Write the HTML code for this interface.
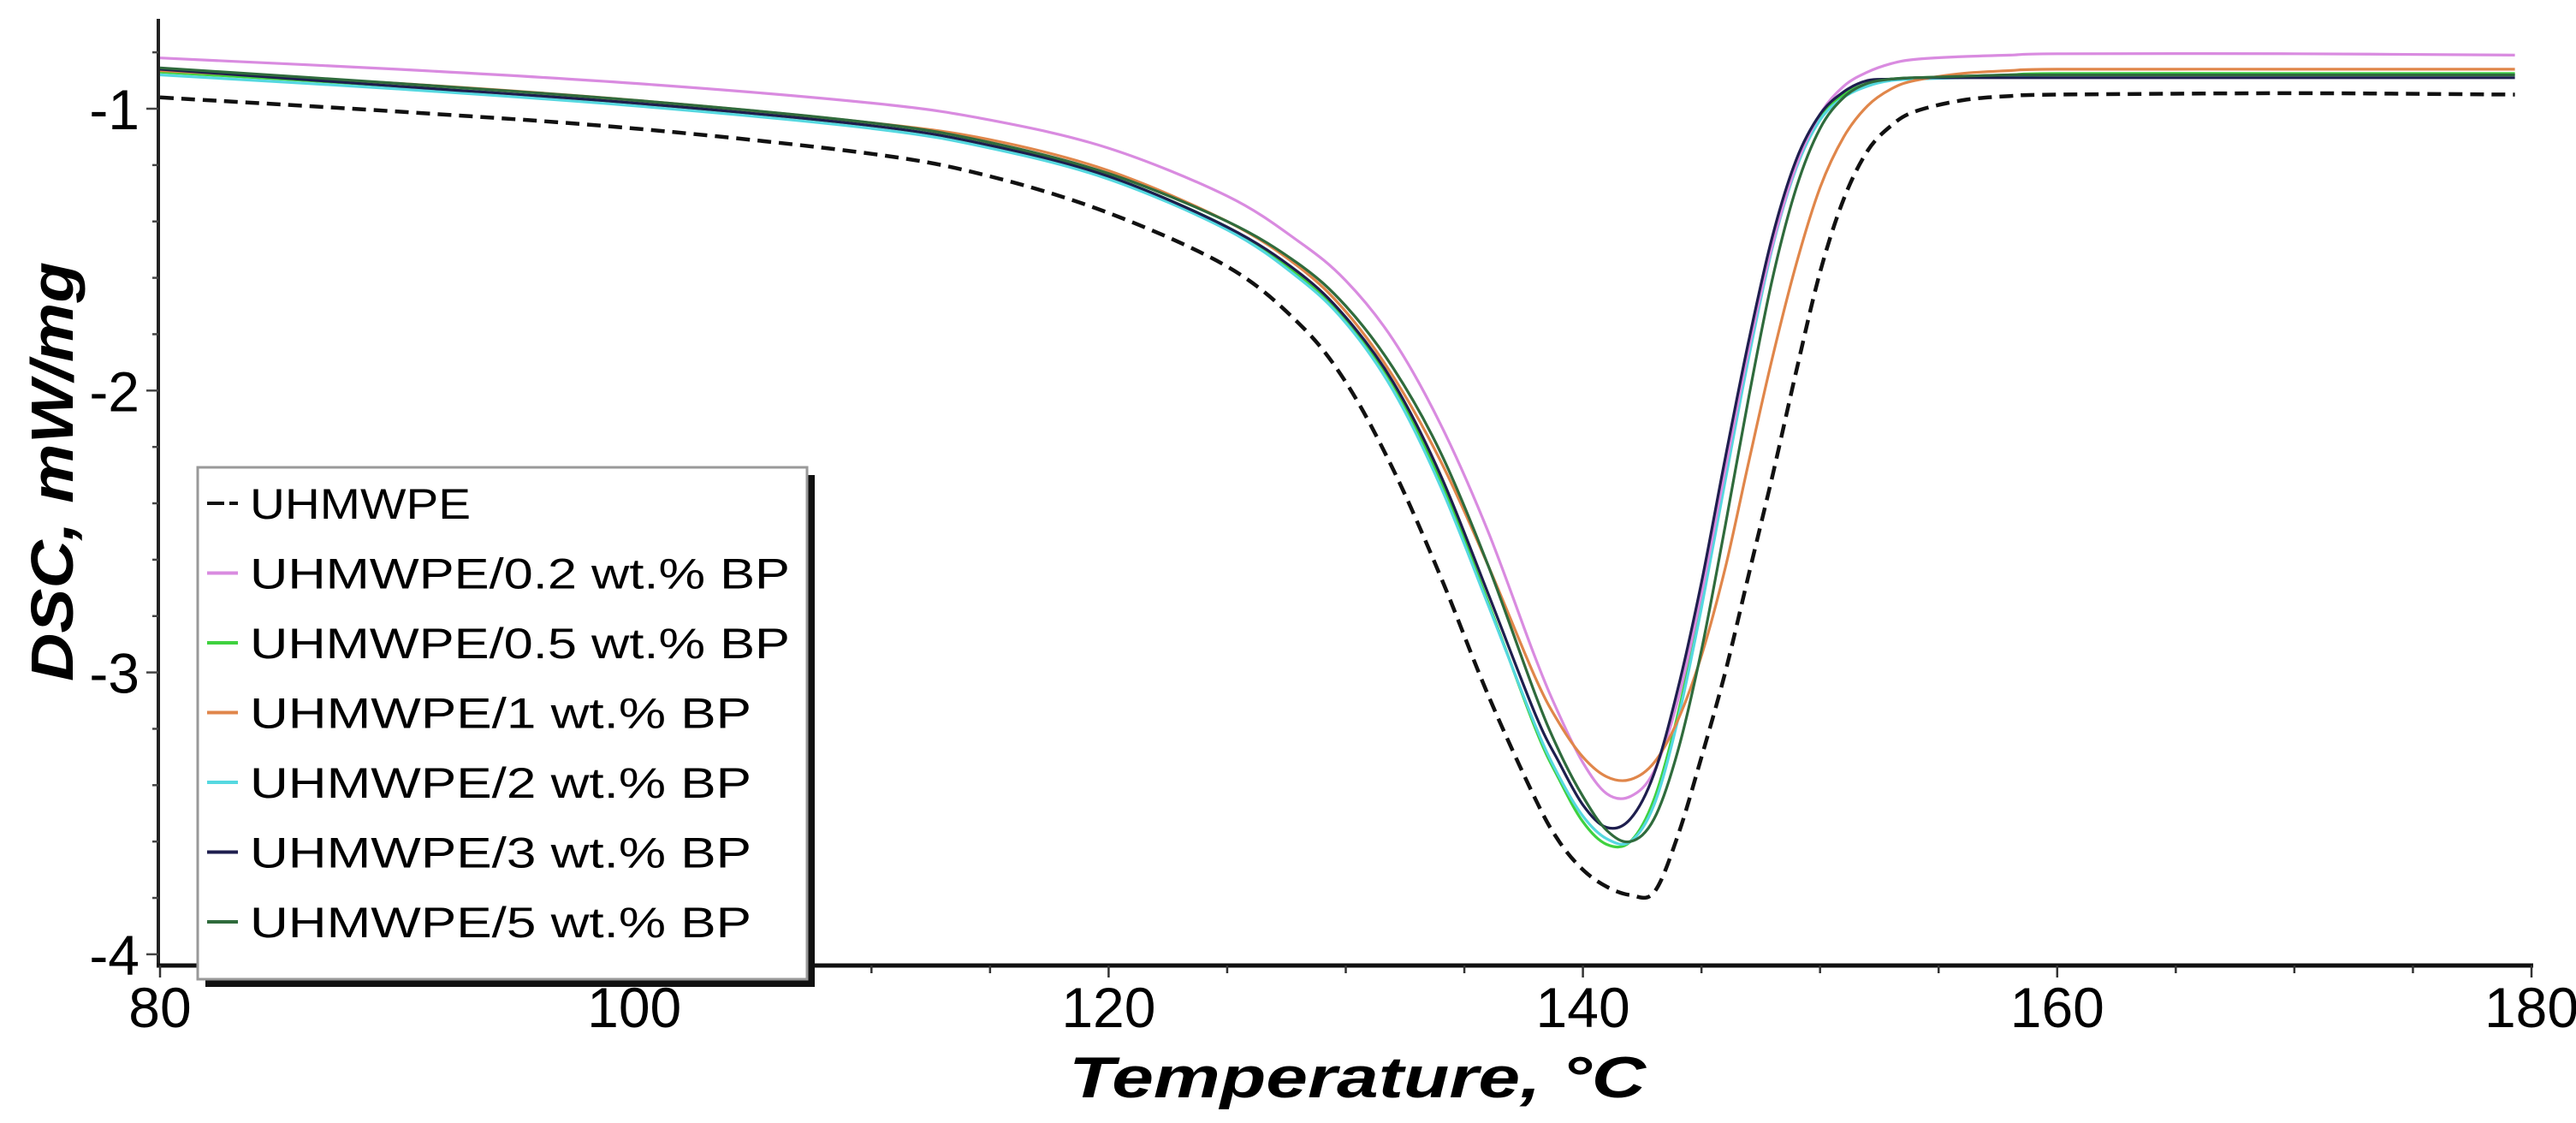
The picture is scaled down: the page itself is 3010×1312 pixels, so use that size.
<!DOCTYPE html>
<html><head><meta charset="utf-8">
<style>
html,body{margin:0;padding:0;background:#fff;}
svg{display:block;}
text{font-family:"Liberation Sans",sans-serif;fill:#000;}
</style></head>
<body>
<svg id="chart" width="3010" height="1312" viewBox="0 0 3010 1312" xmlns="http://www.w3.org/2000/svg">
  <g id="grid"></g>
  <g id="series"></g>
  <g id="legend"></g>
  <text x="1586" y="1282" text-anchor="middle" font-size="68" font-weight="bold" font-style="italic" textLength="674" lengthAdjust="spacingAndGlyphs">Temperature, °C</text>
  <text transform="translate(85,551) rotate(-90)" text-anchor="middle" font-size="70" font-weight="bold" font-style="italic" textLength="490" lengthAdjust="spacingAndGlyphs">DSC, mW/mg</text>
</svg>
<script>
const temps = [80,90,100,110,115,120,125,128,130,132,134,136,138,139,140,141,142,143,144,145,146,147,148,149,150,151,152,153,154,156,158,160,170,179.3];
const sUHMWPE = [-0.96,-1.01,-1.07,-1.16,-1.24,-1.37,-1.56,-1.76,-1.97,-2.28,-2.66,-3.08,-3.45,-3.60,-3.70,-3.76,-3.79,-3.78,-3.58,-3.30,-3.00,-2.65,-2.30,-1.93,-1.58,-1.32,-1.15,-1.06,-1.01,-0.97,-0.955,-0.95,-0.945,-0.95];
const sBP02 = [-0.82,-0.86,-0.91,-0.98,-1.04,-1.14,-1.31,-1.47,-1.61,-1.82,-2.12,-2.50,-2.95,-3.15,-3.32,-3.43,-3.44,-3.35,-3.10,-2.72,-2.28,-1.85,-1.48,-1.20,-1.02,-0.92,-0.87,-0.84,-0.825,-0.815,-0.81,-0.805,-0.805,-0.81];
const sBP05 = [-0.87,-0.92,-0.98,-1.06,-1.13,-1.24,-1.42,-1.59,-1.75,-1.98,-2.32,-2.75,-3.20,-3.38,-3.53,-3.61,-3.60,-3.45,-3.15,-2.75,-2.30,-1.86,-1.48,-1.20,-1.03,-0.95,-0.91,-0.895,-0.89,-0.885,-0.88,-0.875,-0.875,-0.875];
const sBP1 = [-0.865,-0.91,-0.97,-1.05,-1.11,-1.22,-1.40,-1.56,-1.72,-1.95,-2.25,-2.62,-3.02,-3.18,-3.30,-3.37,-3.38,-3.32,-3.17,-2.94,-2.63,-2.25,-1.88,-1.55,-1.28,-1.10,-0.99,-0.93,-0.90,-0.875,-0.865,-0.86,-0.86,-0.86];
const sBP2 = [-0.88,-0.93,-0.99,-1.07,-1.14,-1.25,-1.43,-1.60,-1.76,-2.00,-2.34,-2.76,-3.19,-3.37,-3.51,-3.59,-3.60,-3.47,-3.17,-2.77,-2.32,-1.88,-1.49,-1.21,-1.04,-0.96,-0.92,-0.90,-0.895,-0.89,-0.885,-0.88,-0.88,-0.88];
const sBP3 = [-0.86,-0.92,-0.98,-1.06,-1.13,-1.24,-1.42,-1.58,-1.74,-1.97,-2.30,-2.72,-3.15,-3.32,-3.47,-3.55,-3.52,-3.36,-3.06,-2.68,-2.24,-1.82,-1.45,-1.18,-1.02,-0.94,-0.90,-0.895,-0.89,-0.89,-0.89,-0.89,-0.89,-0.89];
const sBP5 = [-0.855,-0.91,-0.97,-1.05,-1.12,-1.23,-1.40,-1.55,-1.70,-1.92,-2.22,-2.62,-3.08,-3.28,-3.44,-3.56,-3.60,-3.52,-3.28,-2.92,-2.48,-2.02,-1.60,-1.28,-1.07,-0.96,-0.91,-0.895,-0.89,-0.885,-0.88,-0.88,-0.88,-0.88];
const seriesLabels = ["UHMWPE","UHMWPE/0.2 wt.% BP","UHMWPE/0.5 wt.% BP","UHMWPE/1 wt.% BP","UHMWPE/2 wt.% BP","UHMWPE/3 wt.% BP","UHMWPE/5 wt.% BP"];
const xTicks = [80,100,120,140,160,180];
const yTicks = [-1,-2,-3,-4];

const NS = "http://www.w3.org/2000/svg";
const X0 = 187, XS = 27.71, Y0 = 127, YS = 329.3;
function xs(t){ return X0 + (t-80)*XS; }
function ys(v){ return Y0 + (-1 - v)*YS; }
function mk(tag, attrs, parent){ const e=document.createElementNS(NS,tag); for(const k in attrs) e.setAttribute(k,attrs[k]); parent.appendChild(e); return e; }

const grid = document.getElementById('grid');
const axisBottom = 1128, axisLeft = 185;
let ax = mk('line',{x1:axisLeft,y1:22,x2:axisLeft,y2:axisBottom,stroke:'#222','stroke-width':4},grid);


let bx = mk('line',{x1:axisLeft-2,y1:axisBottom,x2:xs(180)+2,y2:axisBottom,stroke:'#111','stroke-width':5},grid);


for(let t=80;t<=180;t+=5){
  const major = (t%20===0);
  const tk = mk('line',{x1:xs(t),y1:axisBottom,x2:xs(t),y2:axisBottom+(major?14:9),stroke:'#333','stroke-width':2.5},grid);
  
  
}
xTicks.forEach(t=>{
  const tx = mk('text',{x:xs(t),y:1200,'text-anchor':'middle','font-size':66},grid);
  
  
  tx.textContent = String(t);
});
for(let i=0;i<=16;i++){
  const v = -0.8 - i*0.2;
  const major = Math.abs(v-Math.round(v))<1e-6;
  const tk = mk('line',{x1:axisLeft-(major?14:7),y1:ys(v),x2:axisLeft,y2:ys(v),stroke:'#444','stroke-width':2.5},grid);
  
  
}
yTicks.forEach(v=>{
  const tx = mk('text',{x:163,y:ys(v)+24,'text-anchor':'end','font-size':66},grid);
  
  
  tx.textContent = String(v);
});

function pathFrom(vals){
  const p = temps.map((t,i)=>[xs(t),ys(vals[i])]);
  let d = 'M'+p[0][0].toFixed(1)+','+p[0][1].toFixed(1);
  for(let i=0;i<p.length-1;i++){
    const p0=p[Math.max(0,i-1)], p1=p[i], p2=p[i+1], p3=p[Math.min(p.length-1,i+2)];
    const c1x=p1[0]+(p2[0]-p0[0])/6, c1y=p1[1]+(p2[1]-p0[1])/6;
    const c2x=p2[0]-(p3[0]-p1[0])/6, c2y=p2[1]-(p3[1]-p1[1])/6;
    d+=' C'+c1x.toFixed(1)+','+c1y.toFixed(1)+' '+c2x.toFixed(1)+','+c2y.toFixed(1)+' '+p2[0].toFixed(1)+','+p2[1].toFixed(1);
  }
  return d;
}
const seriesVals = [sUHMWPE,sBP02,sBP05,sBP1,sBP2,sBP3,sBP5];
const colors = ['#111','#d98be0','#3fd13f','#e0864a','#55d8e0','#1e1e4e','#2f6b3c'];
const names = ['line-uhmwpe','line-bp-0-2','line-bp-0-5','line-bp-1','line-bp-2','line-bp-3','line-bp-5'];
const order = [2,4,1,3,5,6,0];
const sg = document.getElementById('series');
order.forEach(i=>{
  const a = {d:pathFrom(seriesVals[i]),fill:'none',stroke:colors[i],'stroke-width':i===0?4.5:3.2,'stroke-linejoin':'round'};
  if(i===0) a['stroke-dasharray']='16 9';
  const p = mk('path',a,sg);
  
  
});

const lg = document.getElementById('legend');
const sh = mk('rect',{x:240,y:555,width:712,height:598,fill:'#111'},lg);


const bxr = mk('rect',{x:231,y:546,width:712,height:598,fill:'#fff',stroke:'#999','stroke-width':3},lg);


const textLens = [258,631,631,586,586,586,586];
seriesLabels.forEach((lab,i)=>{
  const cy = 588 + i*81.5;
  const g = mk('g',{},lg);
  
  
  const la = {x1:242,y1:cy,x2:278,y2:cy,stroke:colors[i],'stroke-width':4};
  if(i===0) la['stroke-dasharray']='20 6 8 0';
  const ln = mk('line',la,g);
  
  
  const tx = mk('text',{x:292,y:cy+18,'font-size':50,textLength:textLens[i],lengthAdjust:'spacingAndGlyphs'},g);
  
  
  tx.textContent = lab;
});
</script>
</body></html>
